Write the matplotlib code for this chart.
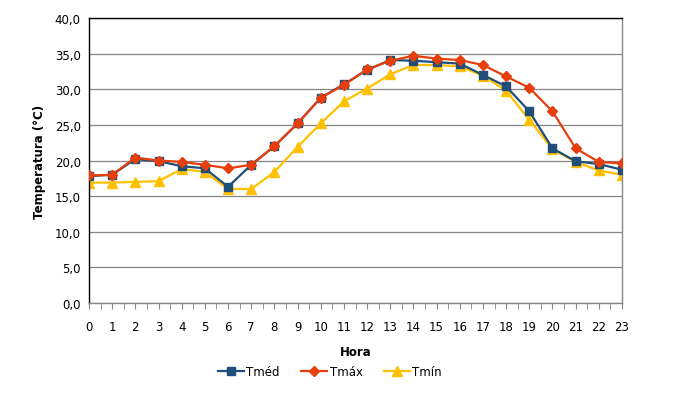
import matplotlib
matplotlib.use("Agg")
import matplotlib.pyplot as plt
from matplotlib.ticker import MultipleLocator, FuncFormatter

horas = list(range(24))
tmed = [17.8, 18.0, 20.2, 19.9, 19.2, 18.9, 16.3, 19.4, 22.0, 25.2, 28.8, 30.7,
        32.7, 34.1, 34.0, 33.8, 33.6, 32.0, 30.4, 26.9, 21.7, 19.9, 19.5, 18.7]
tmax = [17.9, 18.0, 20.4, 20.0, 19.8, 19.4, 18.9, 19.4, 22.0, 25.2, 28.8, 30.6,
        32.8, 34.0, 34.7, 34.3, 34.1, 33.4, 31.8, 30.2, 26.9, 21.7, 19.8, 19.6]
tmin = [16.9, 16.9, 17.0, 17.1, 18.8, 18.4, 16.0, 16.0, 18.4, 21.9, 25.2, 28.3,
        30.1, 32.1, 33.4, 33.4, 33.2, 31.9, 29.8, 25.7, 21.6, 19.8, 18.6, 18.0]

plt.rcParams['font.family'] = ['DejaVu Sans']
fig = plt.figure(figsize=(6.86, 4.02), dpi=100)
ax = fig.add_axes([89/686, 1-304/402, (622-89)/686, (304-19)/402])

ax.plot(horas, tmed, color='#1F4E79', lw=1.6, marker='s', ms=6.2, label='Tméd', zorder=3)
ax.plot(horas, tmax, color='#E63E0C', lw=1.6, marker='D', ms=5.6, label='Tmáx', zorder=4)
ax.plot(horas, tmin, color='#FFC000', lw=1.6, marker='^', ms=6.8, label='Tmín', zorder=2)

ax.set_xlim(0, 23)
ax.set_ylim(0, 40)
ax.yaxis.set_major_locator(MultipleLocator(5))
ax.yaxis.set_major_formatter(FuncFormatter(lambda v, p: f"{v:.1f}".replace('.', ',')))
ax.xaxis.set_major_locator(MultipleLocator(1))
ax.xaxis.set_minor_locator(MultipleLocator(0.5))
ax.grid(axis='y', color='#868686', lw=0.9)
ax.set_axisbelow(True)

for s in ['left', 'top']:
    ax.spines[s].set_color('black')
    ax.spines[s].set_linewidth(1.0)
for s in ['right', 'bottom']:
    ax.spines[s].set_color('#868686')
    ax.spines[s].set_linewidth(1.0)

ax.tick_params(axis='y', length=0, labelsize=8.5, pad=6)
ax.tick_params(axis='x', which='both', length=4, color='#868686', labelsize=8.5, pad=8)

ax.set_ylabel('Temperatura (°C)', fontsize=8.5, fontweight='bold', labelpad=6)
ax.set_xlabel('Hora', fontsize=8.5, fontweight='bold', labelpad=9)

leg = ax.legend(loc='upper center', bbox_to_anchor=(0.452, -0.18), ncol=3, frameon=False,
                fontsize=8.5, handlelength=2.2, columnspacing=1.8, handletextpad=0.2)

fig.savefig('out.png', dpi=100)
